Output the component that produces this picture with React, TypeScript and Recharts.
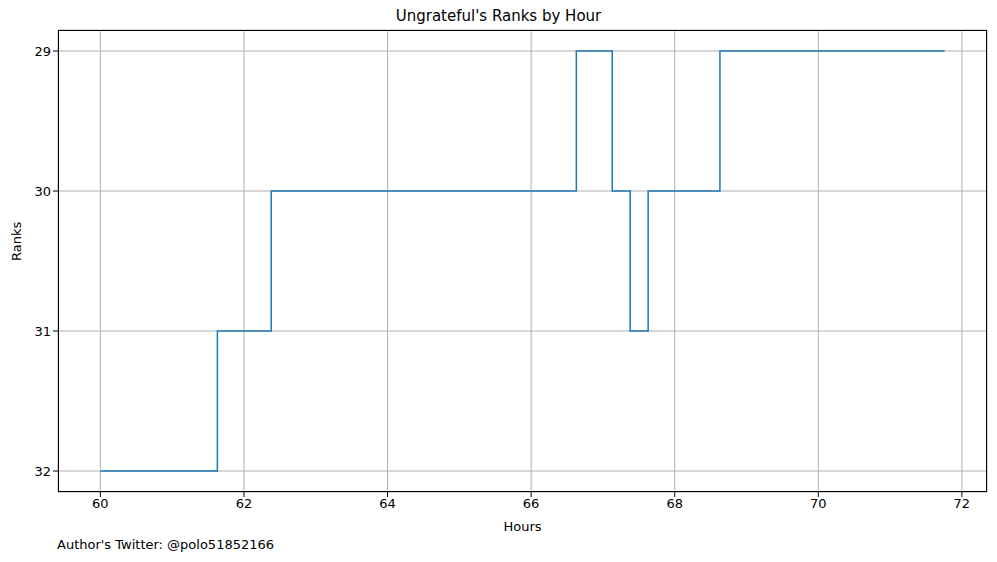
import { LineChart, Line, XAxis, YAxis, CartesianGrid, Label } from 'recharts';

const hours = [60, 61.63, 62.38, 66.63, 67.13, 67.38, 67.63, 68.63, 71.76];
const ranks = [32, 31, 30, 29, 30, 31, 30, 29, 29];
const xTicks = [60, 62, 64, 66, 68, 70, 72];
const yTicks = [29, 30, 31, 32];

const data = hours.map((h, i) => ({ hour: h, rank: ranks[i] }));

const font = 'DejaVu Sans, sans-serif';

const App = () => (
  <div style={{ position: 'fixed', left: 0, top: 0, width: 997, height: 562, background: '#fff', fontFamily: font }}>
    <div style={{ position: 'absolute', top: 7, width: 997, textAlign: 'center', fontSize: 15 }}>
      Ungrateful's Ranks by Hour
    </div>
    <LineChart width={997} height={562} data={data} margin={{ top: 30, right: 10, left: 0, bottom: 0 }}>
      <CartesianGrid stroke="#b0b0b0" strokeWidth={1} />
      <XAxis
        dataKey="hour"
        type="number"
        domain={[59.41, 72.35]}
        allowDataOverflow
        ticks={xTicks}
        height={70}
        axisLine={false}
        tickLine={{ stroke: '#000' }}
        tickSize={5}
        tick={{ fill: '#000', fontSize: 13, fontFamily: font }}
      >
        <Label value="Hours" position="insideTop" offset={30} fill="#000" fontSize={13} fontFamily={font} />
      </XAxis>
      <YAxis
        dataKey="rank"
        type="number"
        reversed
        domain={[28.85, 32.15]}
        allowDataOverflow
        ticks={yTicks}
        width={58}
        axisLine={false}
        tickLine={{ stroke: '#000' }}
        tickSize={5}
        tick={{ fill: '#000', fontSize: 13, fontFamily: font }}
      >
        <Label value="Ranks" angle={-90} position="insideLeft" offset={16} fill="#000" fontSize={13} fontFamily={font} />
      </YAxis>
      <Line type="stepAfter" dataKey="rank" stroke="#1f77b4" strokeWidth={1.5} dot={false} isAnimationActive={false} />
    </LineChart>
    <div style={{ position: 'absolute', left: 58, top: 30, width: 929, height: 462, border: '1px solid #000', boxSizing: 'border-box', pointerEvents: 'none' }} />
    <div style={{ position: 'absolute', left: 57, top: 537, fontSize: 13 }}>Author's Twitter: @polo51852166</div>
  </div>
);

export default App;
